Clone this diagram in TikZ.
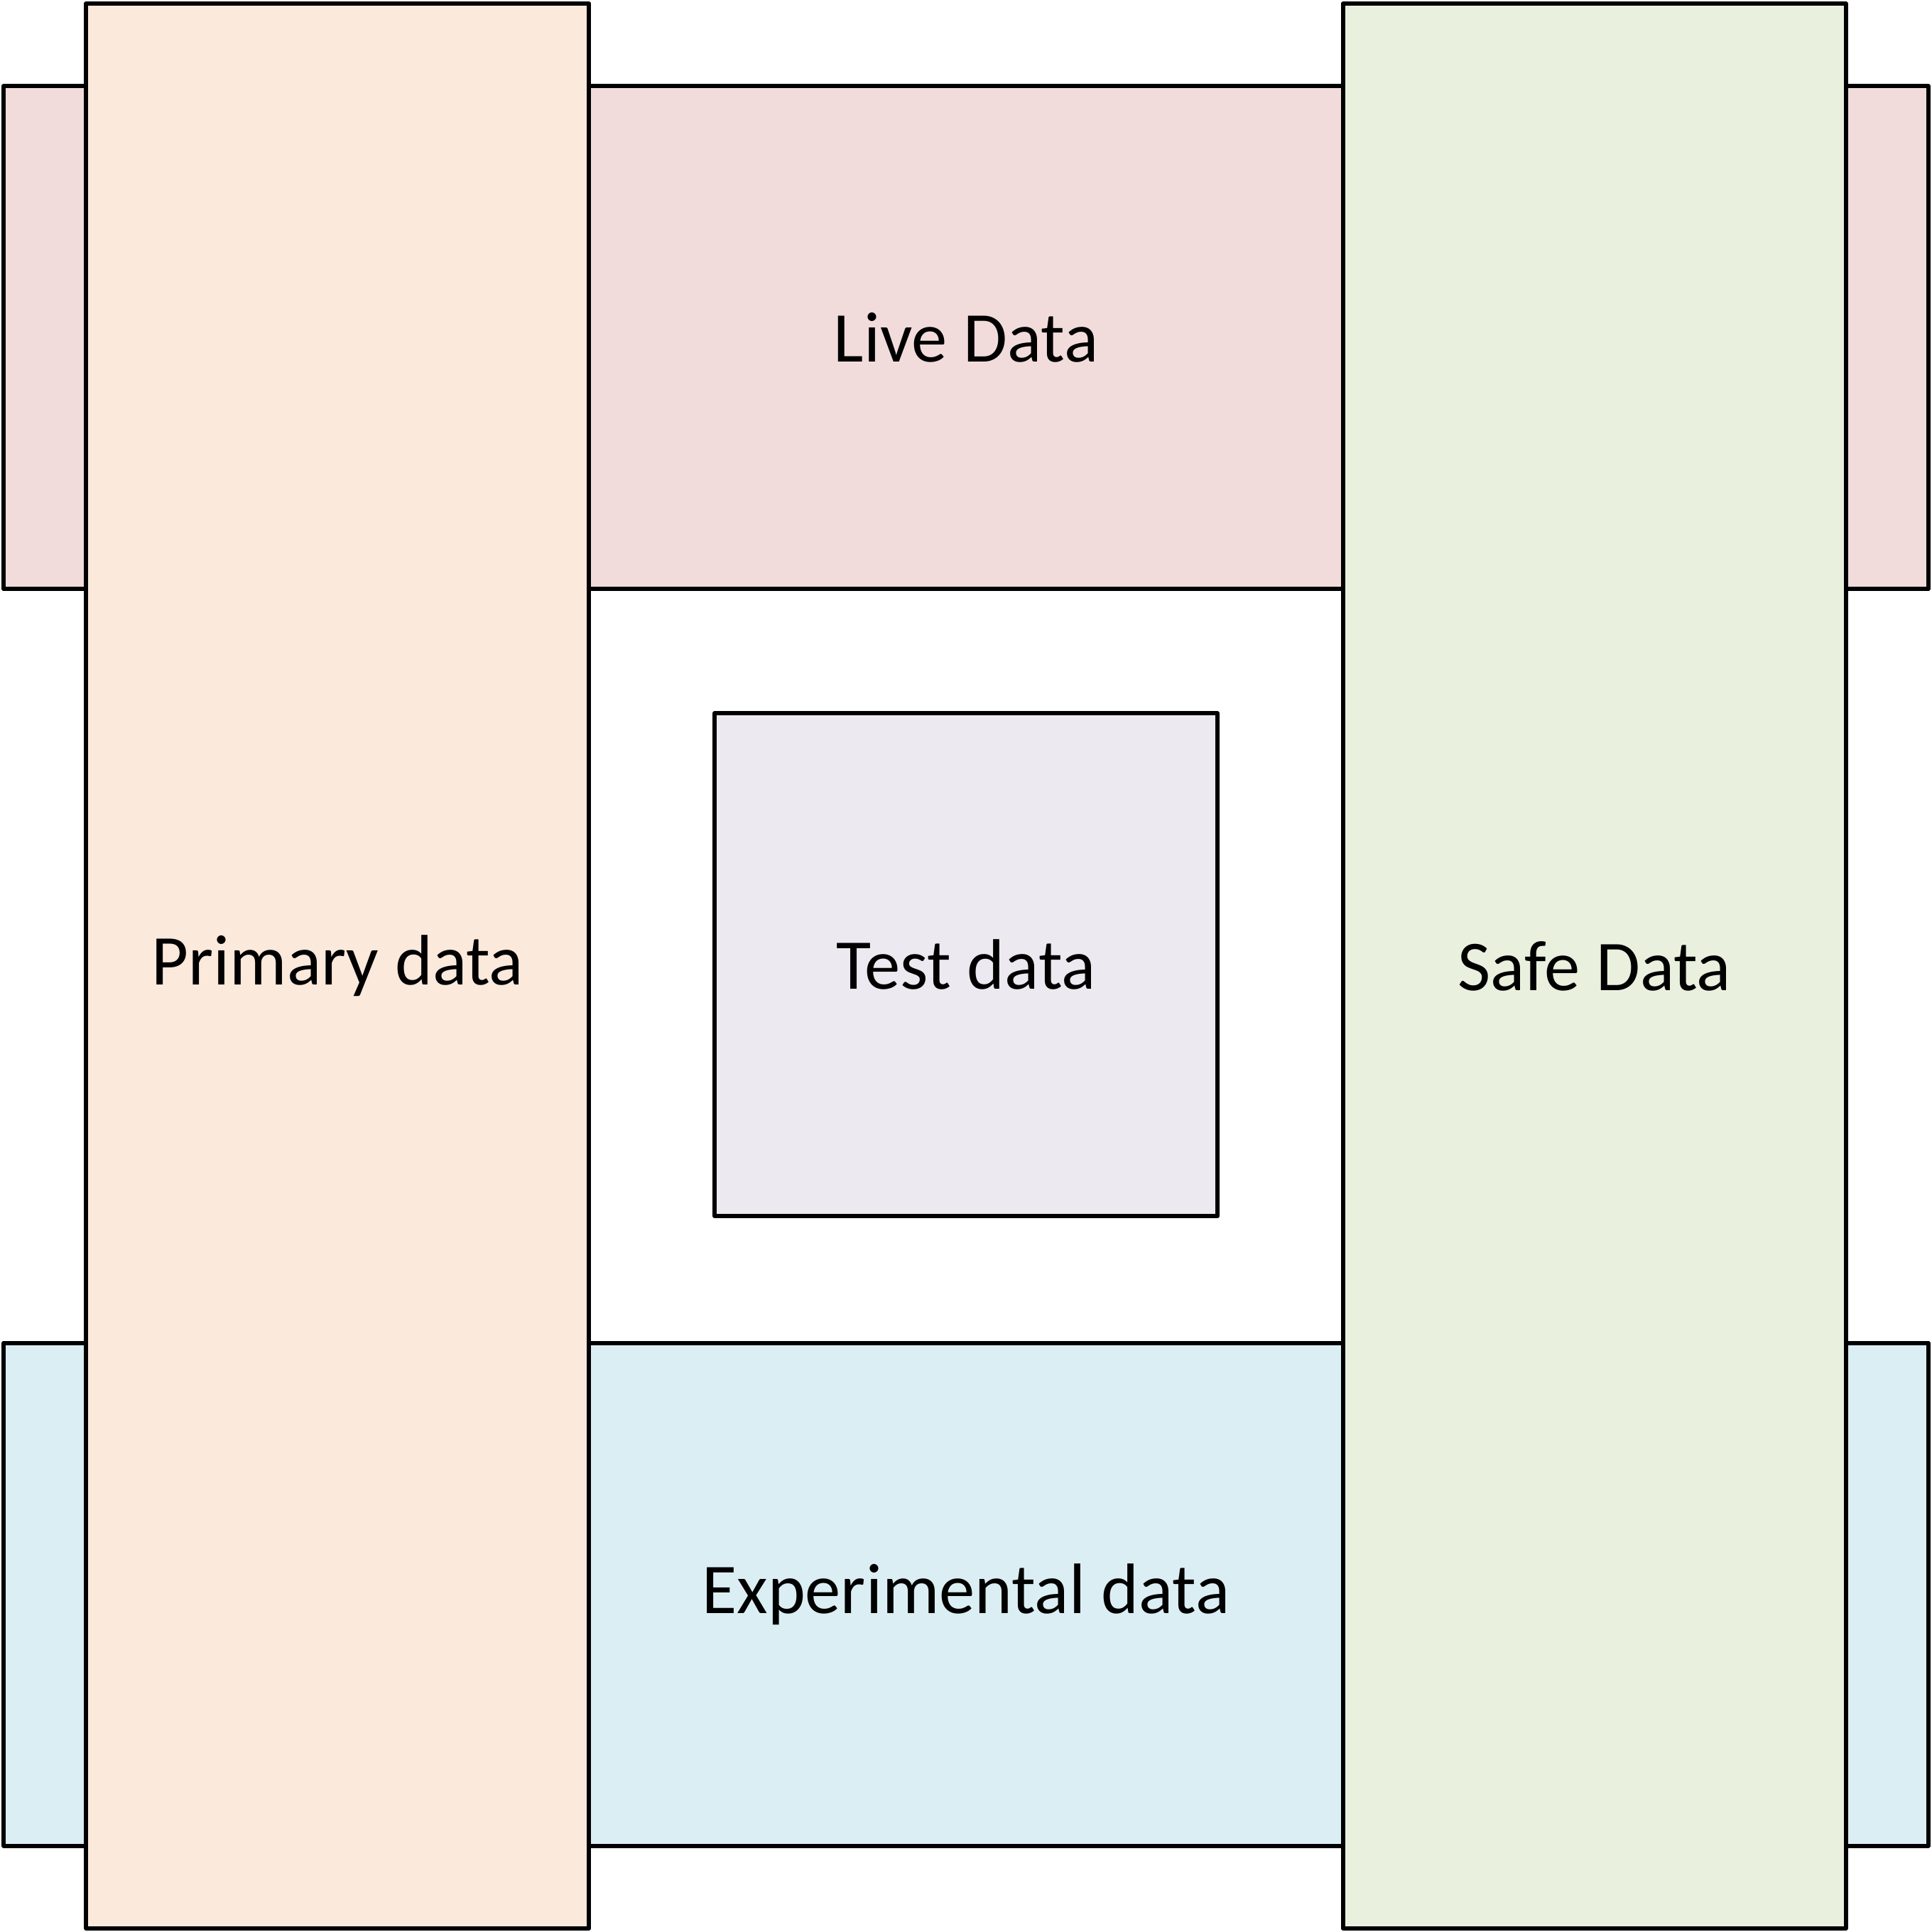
\documentclass[tikz,border=0pt]{standalone}
\usepackage{fontspec}
\setmainfont{Carlito}
\definecolor{livec}{HTML}{F2DCDB}
\definecolor{expc}{HTML}{DBEEF4}
\definecolor{primc}{HTML}{FBE9DC}
\definecolor{safec}{HTML}{E9F0DD}
\definecolor{testc}{HTML}{EDE9F0}
\tikzset{
  box/.style={draw=black, line width=1pt, line join=round, rectangle, inner sep=0pt,
    font=\fontsize{16.5}{19.5}\selectfont, text=black},
}
\begin{document}
\begin{tikzpicture}
\useasboundingbox (0,0) rectangle (15.68,15.68);
\node[box, fill=livec, minimum width=15.62cm, minimum height=4.08cm] (live) at (7.84,12.94) {Live Data};
\node[box, fill=expc, minimum width=15.62cm, minimum height=4.08cm] (exp) at (7.84,2.74) {Experimental data};
\node[box, fill=primc, minimum width=4.08cm, minimum height=15.62cm] (prim) at (2.74,7.84) {Primary data};
\node[box, fill=safec, minimum width=4.08cm, minimum height=15.62cm] (safe) at (12.94,7.84) {Safe Data};
\node[box, fill=testc, minimum width=4.08cm, minimum height=4.08cm] (test) at (7.84,7.85) {Test data};
\end{tikzpicture}
\end{document}
